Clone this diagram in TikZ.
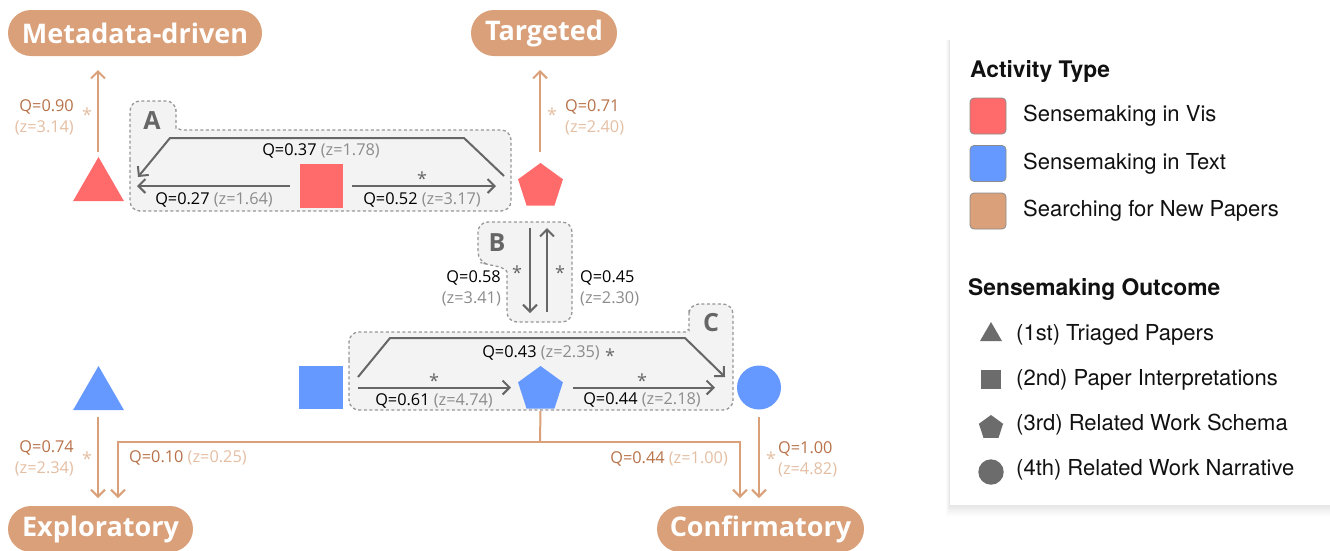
\documentclass[tikz,border=0pt]{standalone}
\usepackage{fontspec}
\setmainfont{Open Sans}
\newfontfamily\legfont{TeX Gyre Heros}
\usetikzlibrary{arrows.meta,shapes.geometric}
\definecolor{tanc}{RGB}{217,160,122}
\definecolor{tanQ}{RGB}{184,114,74}
\definecolor{tanZ}{RGB}{228,190,163}
\definecolor{redc}{RGB}{255,107,107}
\definecolor{bluec}{RGB}{102,153,255}
\definecolor{garr}{RGB}{102,102,102}
\definecolor{grpfill}{RGB}{243,243,243}
\definecolor{grpline}{RGB}{150,150,150}
\definecolor{zgray}{RGB}{140,140,140}
\definecolor{legtxt}{RGB}{17,17,17}
\definecolor{leggray}{RGB}{108,108,108}
\tikzset{
  pill/.style={rectangle, rounded corners=23pt, fill=tanc, text=white, font=\fontsize{27}{30}\bfseries\selectfont, minimum height=46pt, inner sep=0pt},
  lbl/.style={font=\fontsize{16.3}{21}\selectfont, inner sep=0pt},
  star/.style={font=\fontsize{18}{18}\selectfont, inner sep=0pt, anchor=north},
  garrow/.style={draw=garr, line width=2pt, -{Straight Barb[length=7pt,width=14pt]}},
  tarrow/.style={draw=tanc, line width=2pt, -{Straight Barb[length=7pt,width=14pt]}},
  grp/.style={draw=grpline, dash pattern=on 3pt off 2.5pt, line width=1.3pt, fill=grpfill},
  grpletter/.style={font=\fontsize{25}{25}\bfseries\selectfont, text=garr, inner sep=0pt},
  pent/.style={regular polygon, regular polygon sides=5, minimum size=47.2pt, inner sep=0pt},
  tri/.style={regular polygon, regular polygon sides=3, minimum size=58.8pt, inner sep=0pt},
  sq/.style={rectangle, minimum size=43.5pt, inner sep=0pt},
  legtitle/.style={font=\legfont\fontsize{22.8}{24}\bfseries\selectfont, text=legtxt, anchor=west, inner sep=0pt},
  legitem/.style={font=\legfont\fontsize{22}{24}\selectfont, text=legtxt, anchor=west, inner sep=0pt},
  swatch/.style={rectangle, rounded corners=4pt, draw=black!45, line width=0.8pt, minimum size=36pt, inner sep=0pt},
}
\begin{document}
\begin{tikzpicture}[x=1pt,y=-1pt]
\useasboundingbox (0,0) rectangle (1330,550);

% ---------- group boxes ----------
\path[grp, rounded corners=10pt]
  (130,170) -- (130,101) -- (176,101) -- (176,118)
  .. controls (176,127) and (180,130) .. (192,130)
  -- (511,130) -- (511,211) -- (130,211) -- cycle;
\node[grpletter] (labA) at (152,121) {A};

\path[grp, rounded corners=10pt]
  (572,280) -- (572,322) -- (507,322) -- (507,282)
  .. controls (507,270) and (500,267) .. (490,265)
  -- (478,262) -- (478,222) -- (572,222) -- cycle;
\node[grpletter] (labB) at (497,243) {B};

\path[grp, rounded corners=10pt]
  (349,370) -- (349,332) -- (676,332)
  .. controls (686,332) and (689,328) .. (689,320)
  -- (689,304) -- (733,304) -- (733,410) -- (349,410) -- cycle;
\node[grpletter] (labC) at (711,323) {C};

% ---------- pills ----------
\node[pill, minimum width=254pt] (md) at (135,33) {Metadata-driven};
\node[pill, minimum width=146pt] (tg) at (544,33) {Targeted};
\node[pill, minimum width=185pt] (ex) at (100.5,529) {Exploratory};
\node[pill, minimum width=207pt] (cf) at (760.5,529) {Confirmatory};

% ---------- shapes ----------
\node[tri, fill=redc] (rtri) at (98.5,186.4) {};
\node[sq, fill=redc] (rsq) at (321.5,186) {};
\node[pent, fill=redc] (rpent) at (540.5,186.6) {};
\node[tri, fill=bluec] (btri) at (98.5,395.4) {};
\node[sq, fill=bluec] (bsq) at (321,387.5) {};
\node[pent, fill=bluec] (bpent) at (540.5,389.6) {};
\node[circle, fill=bluec, minimum size=44pt, inner sep=0pt] (bcirc) at (759,387.5) {};

% ---------- coordinates for connector ends ----------
\coordinate (mdIn) at (98,70);
\coordinate (tgIn) at (540,70);
\coordinate (exIn1) at (98,498);
\coordinate (exIn2) at (118,498);
\coordinate (cfIn1) at (740,498);
\coordinate (cfIn2) at (759,498);
\coordinate (split) at (540,442);

% ---------- tan connectors (top) ----------
\draw[tarrow] (98,152) -- (mdIn);
\draw[tarrow] (540,152) -- (tgIn);
\node[lbl, anchor=east, align=right] (l090) at (74,117) {\textcolor{tanQ}{Q=0.90}\\\textcolor{tanZ}{(z=3.14)}};
\node[star, text=tanZ] (s090) at (87,108) {*};
\node[lbl, anchor=west, align=left] (l071) at (565,117) {\textcolor{tanQ}{Q=0.71}\\\textcolor{tanZ}{(z=2.40)}};
\node[star, text=tanZ] (s071) at (552,108) {*};

% ---------- group A connectors ----------
\draw[garrow] (504,176) -- (464,138) -- (170,138) -- (138,177);
\node[lbl] (l037) at (321,151) {Q=0.37 \textcolor{zgray}{(z=1.78)}};
\draw[garrow] ([xshift=-10pt]rsq.west) -- (137,186);
\node[lbl] (l027) at (214,200) {Q=0.27 \textcolor{zgray}{(z=1.64)}};
\draw[garrow] ([xshift=9pt]rsq.east) -- (496,186);
\node[star, text=garr] (s052) at (422,172) {*};
\node[lbl] (l052) at (422,200) {Q=0.52 \textcolor{zgray}{(z=3.17)}};

% ---------- group B connectors ----------
\draw[garrow] (530,228) -- (530,313);
\draw[garrow] (547,312) -- (547,228);
\node[star, text=garr] (s058) at (517,266) {*};
\node[star, text=garr] (s045) at (560,266) {*};
\node[lbl, anchor=east, align=right] (l058) at (501,288) {Q=0.58\\\textcolor{zgray}{(z=3.41)}};
\node[lbl, anchor=west, align=left] (l045) at (580,288) {Q=0.45\\\textcolor{zgray}{(z=2.30)}};

% ---------- group C connectors ----------
\draw[garrow] (358,377) -- (390,338) -- (685,338) -- (725,377);
\node[lbl] (l043) at (541,353) {Q=0.43 \textcolor{zgray}{(z=2.35)}};
\node[star, text=garr] (s043) at (610,349) {*};
\draw[garrow] ([xshift=15pt]bsq.east) -- (511,387.5);
\node[star, text=garr] (s061) at (434,374) {*};
\node[lbl] (l061) at (434,401) {Q=0.61 \textcolor{zgray}{(z=4.74)}};
\draw[garrow] (573,387.5) -- (715,387.5);
\node[star, text=garr] (s044) at (642,374) {*};
\node[lbl] (l044) at (642,400) {Q=0.44 \textcolor{zgray}{(z=2.18)}};

% ---------- tan connectors (bottom) ----------
\draw[tarrow] (98,417) -- (exIn1);
\node[lbl, anchor=east, align=right] (l074) at (74,458.5) {\textcolor{tanQ}{Q=0.74}\\\textcolor{tanZ}{(z=2.34)}};
\node[star, text=tanZ] (s074) at (87,452) {*};
\draw[line width=2pt, draw=tanc] ([yshift=-2pt]bpent.south) -- (split);
\draw[tarrow] (split) -- (118,442) -- (exIn2);
\draw[tarrow] (split) -- (740,442) -- (cfIn1);
\node[lbl, anchor=west] (l010) at (129,458) {\textcolor{tanQ}{Q=0.10} \textcolor{tanZ}{(z=0.25)}};
\node[lbl, anchor=east] (l044b) at (728,459) {\textcolor{tanQ}{Q=0.44} \textcolor{tanZ}{(z=1.00)}};
\draw[tarrow] (759,417) -- (cfIn2);
\node[star, text=tanZ] (s100) at (771,452) {*};
\node[lbl, anchor=west, align=left] (l100) at (778,459) {\textcolor{tanQ}{Q=1.00}\\\textcolor{tanZ}{(z=4.82)}};

% ---------- legend ----------
\foreach \i in {1,...,6} {
  \fill[black, opacity=0.014] (950-\i*0.6,40) rectangle (1340,505+\i*1.8);
}
\node[rectangle, fill=white, minimum width=390pt, minimum height=465pt, anchor=north west, inner sep=0pt] (legend) at (950,40) {};
\node[legtitle] (lt1) at (970,71) {Activity Type};
\node[swatch, fill=redc] (sw1) at (988,116) {};
\node[swatch, fill=bluec] (sw2) at (988,163.5) {};
\node[swatch, fill=tanc] (sw3) at (988,211) {};
\node[legitem] (li1) at (1023,116) {Sensemaking in Vis};
\node[legitem] (li2) at (1023,163.5) {Sensemaking in Text};
\node[legitem] (li3) at (1023,211) {Searching for New Papers};
\node[legtitle] (lt2) at (968,289) {Sensemaking Outcome};
\node[regular polygon, regular polygon sides=3, minimum size=25.4pt, inner sep=0pt, fill=leggray] (ls1) at (991,334.7) {};
\node[rectangle, minimum size=19.5pt, inner sep=0pt, fill=leggray] (ls2) at (991,379.5) {};
\node[regular polygon, regular polygon sides=5, minimum size=25.4pt, inner sep=0pt, fill=leggray] (ls3) at (991,427.7) {};
\node[circle, minimum size=25.4pt, inner sep=0pt, fill=leggray] (ls4) at (991,472) {};
\node[legitem] (lo1) at (1016,335) {(1st) Triaged Papers};
\node[legitem] (lo2) at (1016,380) {(2nd) Paper Interpretations};
\node[legitem] (lo3) at (1016,425) {(3rd) Related Work Schema};
\node[legitem] (lo4) at (1016,470) {(4th) Related Work Narrative};
\end{tikzpicture}
\end{document}
